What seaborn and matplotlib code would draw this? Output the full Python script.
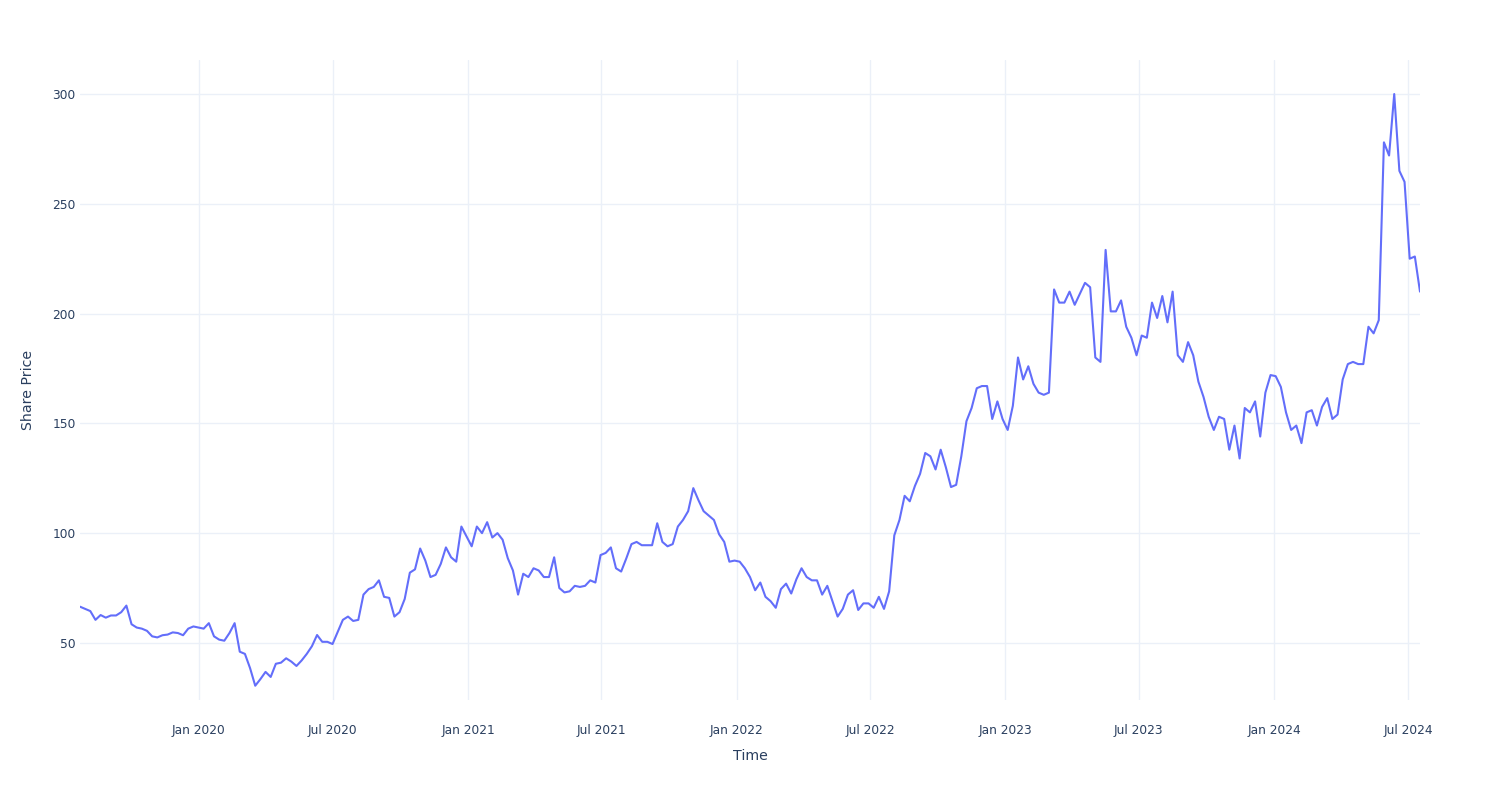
import matplotlib
matplotlib.use("Agg")
import matplotlib.pyplot as plt
import seaborn as sns
import pandas as pd

# ---- data (weekly closes) ----
start_date = "2019-07-24"
share_price = [
    66.5, 65.5, 64.5, 60.5, 62.7, 61.5, 62.5, 62.5, 64.0, 67.0,
    58.5, 57.0, 56.5, 55.5, 53.0, 52.5, 53.5, 53.8, 54.8, 54.5,
    53.5, 56.5, 57.5, 57.0, 56.5, 59.0, 53.0, 51.5, 51.0, 54.5,
    59.0, 46.0, 45.0, 38.5, 30.5, 33.5, 36.8, 34.5, 40.5, 41.0,
    43.0, 41.5, 39.5, 42.0, 45.0, 48.5, 53.6, 50.5, 50.5, 49.5,
    55.0, 60.5, 62.0, 60.0, 60.5, 72.0, 74.5, 75.5, 78.5, 71.0,
    70.5, 62.0, 64.0, 70.0, 82.0, 83.5, 93.0, 87.5, 80.0, 81.0,
    86.0, 93.5, 89.0, 87.0, 103.0, 98.5, 94.0, 103.0, 100.0, 105.0,
    98.0, 100.0, 97.0, 88.6, 83.0, 72.0, 81.5, 80.0, 84.0, 83.0,
    80.0, 80.0, 89.0, 75.0, 73.0, 73.5, 76.0, 75.5, 76.0, 78.5,
    77.5, 90.0, 91.0, 93.5, 84.0, 82.5, 88.5, 95.0, 96.0, 94.5,
    94.5, 94.5, 104.5, 96.0, 94.0, 95.0, 103.0, 106.0, 110.0, 120.5,
    115.0, 110.0, 108.0, 106.0, 99.5, 96.0, 87.0, 87.5, 87.0, 84.0,
    80.0, 74.0, 77.5, 71.0, 69.0, 66.0, 74.5, 77.0, 72.5, 79.0,
    84.0, 80.0, 78.5, 78.5, 72.0, 76.0, 69.0, 62.0, 65.5, 72.0,
    74.0, 65.0, 68.0, 68.0, 66.0, 71.0, 65.5, 73.5, 99.0, 106.0,
    117.0, 114.5, 121.5, 127.0, 136.5, 135.0, 129.0, 138.0, 130.0, 121.0,
    122.0, 135.0, 151.0, 157.0, 166.0, 167.0, 167.0, 152.0, 160.0, 152.0,
    147.0, 158.0, 180.0, 170.0, 176.0, 168.0, 164.0, 163.0, 164.0, 211.0,
    205.0, 205.0, 210.0, 204.0, 209.0, 214.0, 212.0, 180.0, 178.0, 229.0,
    201.0, 201.0, 206.0, 194.0, 189.0, 181.0, 190.0, 189.0, 205.0, 198.0,
    208.0, 196.0, 210.0, 181.0, 178.0, 187.0, 181.0, 169.0, 162.0, 153.0,
    147.0, 153.0, 152.0, 138.0, 149.0, 134.0, 157.0, 155.0, 160.0, 144.0,
    164.0, 172.0, 171.5, 166.6, 155.0, 147.0, 149.0, 141.0, 155.0, 156.0,
    149.0, 157.5, 161.5, 152.0, 154.0, 170.0, 177.0, 178.0, 177.0, 177.0,
    194.0, 191.0, 197.0, 278.0, 272.0, 300.0, 265.0, 260.0, 225.0, 226.0,
    210.0,
]
y_ticks = [50, 100, 150, 200, 250, 300]
x_tick_dates = ["2020-01-01", "2020-07-01", "2021-01-01", "2021-07-01", "2022-01-01",
                "2022-07-01", "2023-01-01", "2023-07-01", "2024-01-01", "2024-07-01"]
x_tick_labels = ["Jan 2020", "Jul 2020", "Jan 2021", "Jul 2021", "Jan 2022",
                 "Jul 2022", "Jan 2023", "Jul 2023", "Jan 2024", "Jul 2024"]
x_title = "Time"
y_title = "Share Price"

dates = pd.date_range(start=start_date, periods=len(share_price), freq="7D")
df = pd.DataFrame({"Time": dates, "Share Price": share_price})

# ---- style ----
sns.set_theme(style="white")
plt.rcParams["font.family"] = ["DejaVu Sans"]
text_color = "#2a3f5f"
grid_color = "#EBF0F8"
line_color = "#636EFA"

fig = plt.figure(figsize=(15, 8), dpi=100, facecolor="white")
ax = fig.add_axes([80 / 1500, 100 / 800, 1340 / 1500, 640 / 800])
ax.set_facecolor("white")

sns.lineplot(data=df, x="Time", y="Share Price", ax=ax, color=line_color,
             linewidth=1.5, zorder=3)

ax.set_xlim(dates[0], dates[-1])
ax.set_ylim(24.0, 315.5)
ax.set_yticks(y_ticks)
ax.set_yticklabels([str(v) for v in y_ticks])
ax.set_xticks(pd.to_datetime(x_tick_dates))
ax.set_xticklabels(x_tick_labels)

ax.grid(True, color=grid_color, linewidth=1.0, zorder=0)
ax.set_axisbelow(True)
for s in ax.spines.values():
    s.set_visible(False)
ax.tick_params(axis="both", length=0, colors=text_color, labelsize=8.8)
ax.tick_params(axis="x", pad=17)
ax.tick_params(axis="y", pad=3)

ax.set_xlabel(x_title, fontsize=10.2, color=text_color, labelpad=9)
ax.set_ylabel(y_title, fontsize=10.2, color=text_color)
ax.yaxis.set_label_coords(-0.0338, 0.484)

fig.savefig("out.png", dpi=100, facecolor="white")
